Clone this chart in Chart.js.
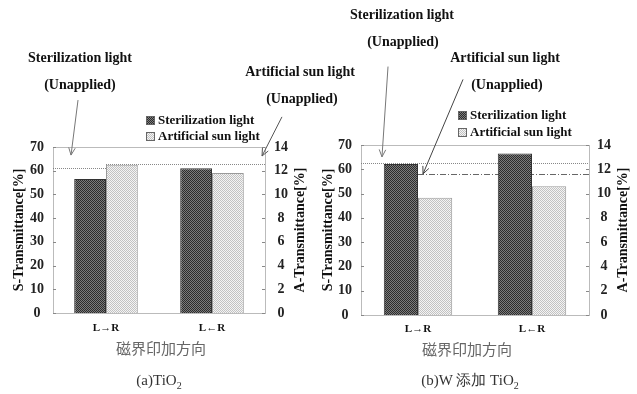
<!DOCTYPE html>
<html><head><meta charset="utf-8">
<script src="https://cdn.jsdelivr.net/npm/chart.js@4.4.1/dist/chart.umd.min.js"></script>
<style>
html,body{margin:0;padding:0;background:#fff;}
body{width:637px;height:394px;position:relative;overflow:hidden;font-family:'Liberation Serif',serif;}
canvas.chart{position:absolute;top:0;}
.t{position:absolute;transform:translate(-50%,-50%);white-space:nowrap;font-weight:bold;font-size:14px;color:#111;}
.lg{position:absolute;white-space:nowrap;font-weight:bold;font-size:13px;color:#111;transform:translateY(-50%);line-height:14px;}
.lg canvas{display:inline-block;vertical-align:-1px;margin-right:3px;border:1px solid #666;box-sizing:border-box;}
.jp{position:absolute;transform:translate(-50%,-50%);font-family:'Noto Sans CJK JP';font-size:15px;color:#666;white-space:nowrap;}
.cap{position:absolute;transform:translate(-50%,-50%);font-size:15px;color:#333;white-space:nowrap;}
</style></head>
<body>
<canvas class="chart" id="ca" width="318" height="394" style="left:0"></canvas>
<canvas class="chart" id="cb" width="319" height="394" style="left:318px"></canvas>

<div class="t" style="left:80px;top:58px">Sterilization light</div>
<div class="t" style="left:80px;top:85px">(Unapplied)</div>
<div class="t" style="left:300px;top:72px">Artificial sun light</div>
<div class="t" style="left:302px;top:99px">(Unapplied)</div>
<div class="lg" style="left:146px;top:120px"><canvas class="swd" width="7" height="7"></canvas>Sterilization light</div>
<div class="lg" style="left:146px;top:136px"><canvas class="swl" width="7" height="7"></canvas>Artificial sun light</div>

<div class="t" style="left:402px;top:15px">Sterilization light</div>
<div class="t" style="left:403px;top:42px">(Unapplied)</div>
<div class="t" style="left:505px;top:58px">Artificial sun light</div>
<div class="t" style="left:507px;top:85px">(Unapplied)</div>
<div class="lg" style="left:458px;top:115px"><canvas class="swd" width="7" height="7"></canvas>Sterilization light</div>
<div class="lg" style="left:458px;top:132px"><canvas class="swl" width="7" height="7"></canvas>Artificial sun light</div>

<div class="jp" style="left:161px;top:347px">磁界印加方向</div>
<div class="jp" style="left:467px;top:348px">磁界印加方向</div>
<div class="cap" style="left:159px;top:381px">(a)TiO<sub style="font-size:10px">2</sub></div>
<div class="cap" style="left:470px;top:381px">(b)W 添加 TiO<sub style="font-size:10px">2</sub></div>

<script>
// ---- data ----
const categories = ['L→R', 'L←R'];
const sTicks = [0, 10, 20, 30, 40, 50, 60, 70];     // S-Transmittance [%]
const aTicks = [0, 2, 4, 6, 8, 10, 12, 14];         // A-Transmittance [%]
// (a) TiO2
const sterA = [56.5, 61.0];    // Sterilization light, S-Transmittance
const artA  = [12.5, 11.8];    // Artificial sun light, A-Transmittance
const refA  = [61.3, 12.6];    // unapplied levels [S, A]
// (b) W-doped TiO2
const sterB = [62.2, 66.5];
const artB  = [9.65, 10.6];
const refB  = [62.7, 11.65];

const SERIF = "'Liberation Serif', 'Times New Roman', serif";

function pattern(ctx, c1, c2) {
  const cv = document.createElement('canvas'); cv.width = 2; cv.height = 2;
  const g = cv.getContext('2d');
  g.fillStyle = c1; g.fillRect(0, 0, 2, 2);
  g.fillStyle = c2; g.fillRect(0, 0, 1, 1); g.fillRect(1, 1, 1, 1);
  return ctx.createPattern(cv, 'repeat');
}
const DARK = ['#7c7c7c', '#2c2c2c'], LIGHT = ['#f4f4f4', '#c2c2c2'];
document.querySelectorAll('canvas.swd').forEach(c => { const x = c.getContext('2d'); x.fillStyle = pattern(x, DARK[0], DARK[1]); x.fillRect(0,0,7,7); });
document.querySelectorAll('canvas.swl').forEach(c => { const x = c.getContext('2d'); x.fillStyle = pattern(x, LIGHT[0], LIGHT[1]); x.fillRect(0,0,7,7); });

function decoPlugin(cfg) {
  return {
    id: 'deco',
    beforeDatasetsDraw(chart) {
      const {ctx, scales} = chart;
      ctx.save();
      cfg.refs.forEach(r => {
        const y = scales[r.axis].getPixelForValue(r.value);
        const x0 = Math.max(chart.chartArea.left, scales.x.getPixelForValue(r.from));
        const x1 = Math.min(chart.chartArea.right, scales.x.getPixelForValue(r.to));
        ctx.strokeStyle = r.color; ctx.lineWidth = 1; ctx.setLineDash(r.dash);
        ctx.beginPath(); ctx.moveTo(x0, Math.round(y) + 0.5); ctx.lineTo(x1, Math.round(y) + 0.5); ctx.stroke();
      });
      ctx.restore();
    },
    afterDraw(chart) {
      const {ctx, chartArea: a, scales} = chart;
      ctx.save();
      // box
      ctx.strokeStyle = '#777'; ctx.lineWidth = 1; ctx.setLineDash([1, 1]);
      ctx.strokeRect(Math.round(a.left) + 0.5, Math.round(a.top) + 0.5, Math.round(a.right - a.left), Math.round(a.bottom - a.top));
      ctx.setLineDash([]);
      ctx.strokeStyle = '#888';
      scales.y.ticks.forEach(t => { const y = Math.round(scales.y.getPixelForValue(t.value)) + 0.5; ctx.beginPath(); ctx.moveTo(a.left, y); ctx.lineTo(a.left + 3, y); ctx.stroke(); });
      scales.y1.ticks.forEach(t => { const y = Math.round(scales.y1.getPixelForValue(t.value)) + 0.5; ctx.beginPath(); ctx.moveTo(a.right, y); ctx.lineTo(a.right - 3, y); ctx.stroke(); });
      // arrows
      cfg.arrows.forEach(ar => {
        const x0 = scales.x.getPixelForValue(ar.x0), y0 = scales.y.getPixelForValue(ar.y0);
        const x1 = scales.x.getPixelForValue(ar.x1), y1 = scales.y.getPixelForValue(ar.y1);
        ctx.strokeStyle = ar.color; ctx.lineWidth = 1;
        ctx.beginPath(); ctx.moveTo(x0, y0); ctx.lineTo(x1, y1); ctx.stroke();
        const ang = Math.atan2(y1 - y0, x1 - x0), L = 8, s = 0.42;
        ctx.beginPath();
        ctx.moveTo(x1 - L * Math.cos(ang - s), y1 - L * Math.sin(ang - s));
        ctx.lineTo(x1, y1);
        ctx.lineTo(x1 - L * Math.cos(ang + s), y1 - L * Math.sin(ang + s));
        ctx.stroke();
      });
      // right axis title (reads bottom to top)
      ctx.fillStyle = '#111'; ctx.font = 'bold 14px ' + SERIF;
      ctx.textAlign = 'center'; ctx.textBaseline = 'middle';
      ctx.translate(cfg.rTitleX, (a.top + a.bottom) / 2);
      ctx.rotate(-Math.PI / 2);
      ctx.fillText('A-Transmittance[%]', 0, 0);
      ctx.restore();
    }
  };
}

function makeChart(id, ster, art, cfg) {
  const el = document.getElementById(id);
  const c2d = el.getContext('2d');
  const tickFont = {family: SERIF, size: 14, weight: 'bold'};
  return new Chart(el, {
    type: 'bar',
    data: {
      labels: categories,
      datasets: [
        {label: 'Sterilization light', data: ster, yAxisID: 'y',
         backgroundColor: pattern(c2d, DARK[0], DARK[1]), borderColor: '#333', borderWidth: 1,
         categoryPercentage: 0.6, barPercentage: 1.0},
        {label: 'Artificial sun light', data: art, yAxisID: 'y1',
         backgroundColor: pattern(c2d, LIGHT[0], LIGHT[1]), borderColor: '#9a9a9a', borderWidth: 1,
         categoryPercentage: 0.6, barPercentage: 1.0}
      ]
    },
    options: {
      responsive: false, animation: false, devicePixelRatio: 1,
      layout: {padding: {left: 0, right: 0, top: cfg.top, bottom: 0}},
      plugins: {legend: {display: false}, tooltip: {enabled: false}},
      scales: {
        x: {
          grid: {display: false, drawTicks: false}, border: {display: false},
          ticks: {padding: cfg.xPad, color: '#111', font: {family: SERIF, size: 11, weight: 'bold'}},
          afterFit: s => { s.height = cfg.xH; }
        },
        y: {
          position: 'left', min: sTicks[0], max: sTicks[sTicks.length - 1],
          afterBuildTicks: s => { s.ticks = sTicks.map(v => ({value: v})); },
          grid: {display: false, drawTicks: false}, border: {display: false},
          ticks: {padding: cfg.lPad, crossAlign: 'center', color: '#222', font: tickFont},
          title: {display: true, text: 'S-Transmittance[%]', color: '#111', padding: {top: cfg.lTitlePad, bottom: 0},
                  font: {family: SERIF, size: 14, weight: 'bold'}},
          afterFit: s => { s.width = cfg.lW; }
        },
        y1: {
          position: 'right', min: aTicks[0], max: aTicks[aTicks.length - 1],
          afterBuildTicks: s => { s.ticks = aTicks.map(v => ({value: v})); },
          grid: {display: false, drawTicks: false}, border: {display: false},
          ticks: {padding: cfg.rPad, crossAlign: 'center', color: '#222', font: tickFont},
          afterFit: s => { s.width = cfg.rW; }
        }
      }
    },
    plugins: [decoPlugin(cfg)]
  });
}

makeChart('ca', sterA, artA, {
  top: 147, xH: 81, lW: 53, rW: 53, xPad: 9, lPad: 9, rPad: 9, lTitlePad: 11, rTitleX: 300,
  refs: [
    {axis: 'y', value: refA[0], from: -0.5, to: 0.0, dash: [1, 1], color: '#888'},
    {axis: 'y1', value: refA[1], from: 0.0, to: 1.5, dash: [1, 1], color: '#888'}
  ],
  arrows: [
    {x0: -0.264, y0: 89.8, x1: -0.33, y1: 66.6, color: '#777'},
    {x0: 1.66, y0: 82.7, x1: 1.472, y1: 66.2, color: '#555'}
  ]
});

makeChart('cb', sterB, artB, {
  top: 145, xH: 79, lW: 43, rW: 48, xPad: 8, lPad: 9, rPad: 8, lTitlePad: 2, rTitleX: 305,
  refs: [
    {axis: 'y', value: refB[0], from: -0.5, to: 1.5, dash: [1, 1], color: '#888'},
    {axis: 'y1', value: refB[1], from: 0.0, to: 1.5, dash: [6, 2, 1, 2], color: '#666'}
  ],
  arrows: [
    {x0: -0.263, y0: 102.3, x1: -0.316, y1: 65.1, color: '#777'},
    {x0: 0.395, y0: 97.0, x1: 0.044, y1: 58.1, color: '#444'}
  ]
});
</script>
</body></html>
